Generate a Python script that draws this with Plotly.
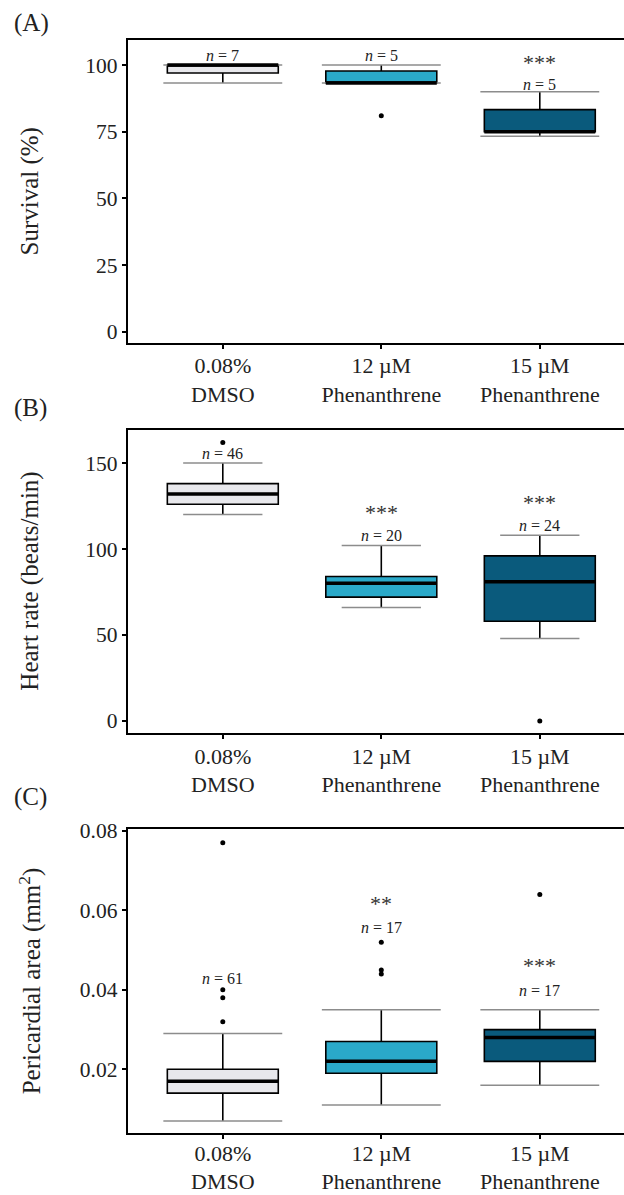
import plotly.graph_objects as go

# ---------------- data ----------------
categories = ["0.08%<br>DMSO", "12 µM<br>Phenanthrene", "15 µM<br>Phenanthrene"]
positions = [1, 2, 3]
fill_colors = ["#e8e8ec", "#2aa9c9", "#0a5a7c"]

# Panel A: survival (%)
surv_low = [93.3, 93.3, 73.3]
surv_q1 = [97.0, 93.3, 75.0]
surv_med = [100.0, 93.3, 75.0]
surv_q3 = [100.0, 97.8, 83.3]
surv_high = [100.0, 100.0, 90.0]
surv_out = [[], [81.0], []]
surv_n = ["7", "5", "5"]
surv_sig = ["", "", "***"]

# Panel B: heart rate (beats/min)
hr_low = [120, 66, 48]
hr_q1 = [126, 72, 58]
hr_med = [132, 80, 81]
hr_q3 = [138, 84, 96]
hr_high = [150, 102, 108]
hr_out = [[162], [], [0]]
hr_n = ["46", "20", "24"]
hr_sig = ["", "***", "***"]

# Panel C: pericardial area (mm2)
pa_low = [0.007, 0.011, 0.016]
pa_q1 = [0.014, 0.019, 0.022]
pa_med = [0.017, 0.022, 0.028]
pa_q3 = [0.020, 0.027, 0.030]
pa_high = [0.029, 0.035, 0.035]
pa_out = [[0.077, 0.040, 0.038, 0.032], [0.052, 0.045, 0.044], [0.064]]
pa_n = ["61", "17", "17"]
pa_sig = ["", "**", "***"]

# label positions (data units)
surv_n_y = [103.6, 103.4, 92.6]
surv_sig_y = [None, None, 101.0]
hr_n_y = [155.6, 107.8, 113.5]
hr_sig_y = [None, 121.0, 127.0]
pa_n_y = [0.0429, 0.0558, 0.0398]
pa_sig_y = [None, 0.0618, 0.0462]

panels = [
    dict(low=surv_low, q1=surv_q1, med=surv_med, q3=surv_q3, high=surv_high, out=surv_out,
         n=surv_n, sig=surv_sig, n_y=surv_n_y, sig_y=surv_sig_y, cap=0.75,
         yrange=[-4.2, 109.4], ytick=[0, 25, 50, 75, 100], yticktext=["0", "25", "50", "75", "100"],
         title="Survival (%)", label="(A)", dom=[40, 343], label_y=23, standoff=-2),
    dict(low=hr_low, q1=hr_q1, med=hr_med, q3=hr_q3, high=hr_high, out=hr_out,
         n=hr_n, sig=hr_sig, n_y=hr_n_y, sig_y=hr_sig_y, cap=0.5,
         yrange=[-7.2, 169.2], ytick=[0, 50, 100, 150], yticktext=["0", "50", "100", "150"],
         title="Heart rate (beats/min)", label="(B)", dom=[430, 733.3], label_y=408, standoff=-2),
    dict(low=pa_low, q1=pa_q1, med=pa_med, q3=pa_q3, high=pa_high, out=pa_out,
         n=pa_n, sig=pa_sig, n_y=pa_n_y, sig_y=pa_sig_y, cap=0.75,
         yrange=[0.0039, 0.0804], ytick=[0.02, 0.04, 0.06, 0.08], yticktext=["0.02", "0.04", "0.06", "0.08"],
         title="Pericardial area (mm<sup>2</sup>)", label="(C)", dom=[829.3, 1133.3], label_y=797, standoff=-5),
]

W, H = 624, 1195
LEFT = 127.7
BOX_W = 0.7
FONT = "Liberation Serif"

fig = go.Figure()
annotations = []
layout = {}

for i, p in enumerate(panels):
    k = "" if i == 0 else str(i + 1)
    xa, ya = "x" + k, "y" + k
    # whisker caps (gray, underneath)
    for j, pos in enumerate(positions):
        hw = p["cap"] / 2
        fig.add_trace(go.Scatter(
            x=[pos - hw, pos + hw, None, pos - hw, pos + hw],
            y=[p["low"][j], p["low"][j], None, p["high"][j], p["high"][j]],
            mode="lines", line=dict(color="#8c8c8c", width=1.5),
            xaxis=xa, yaxis=ya, showlegend=False, hoverinfo="skip"))
    # boxes
    for j, pos in enumerate(positions):
        fig.add_trace(go.Box(
            x=[pos], q1=[p["q1"][j]], median=[p["med"][j]], q3=[p["q3"][j]],
            lowerfence=[p["low"][j]], upperfence=[p["high"][j]],
            width=BOX_W, whiskerwidth=0, boxpoints=False,
            fillcolor=fill_colors[j], line=dict(color="black", width=1.6),
            xaxis=xa, yaxis=ya, showlegend=False, hoverinfo="skip"))
        # thick median
        fig.add_trace(go.Scatter(
            x=[pos - BOX_W / 2, pos + BOX_W / 2], y=[p["med"][j], p["med"][j]],
            mode="lines", line=dict(color="black", width=3.5),
            xaxis=xa, yaxis=ya, showlegend=False, hoverinfo="skip"))
        # outliers
        if p["out"][j]:
            fig.add_trace(go.Scatter(
                x=[pos] * len(p["out"][j]), y=p["out"][j], mode="markers",
                marker=dict(color="black", size=5),
                xaxis=xa, yaxis=ya, showlegend=False, hoverinfo="skip"))
        # n labels
        annotations.append(dict(
            x=pos, y=p["n_y"][j], xref=xa, yref=ya, text="<i>n</i> = " + p["n"][j],
            showarrow=False, font=dict(family=FONT, size=16, color="#222"),
            xanchor="center", yanchor="middle"))
        if p["sig"][j]:
            annotations.append(dict(
                x=pos, y=p["sig_y"][j], xref=xa, yref=ya, text=p["sig"][j],
                showarrow=False, font=dict(family=FONT, size=22, color="#333"),
                xanchor="center", yanchor="middle"))

    top, bot = p["dom"]
    ydom = [1 - bot / H, 1 - top / H]
    layout["xaxis" + k] = dict(
        domain=[LEFT / W, 1], range=[0.4, 0.4 + (W - LEFT) / 158.5], anchor=ya,
        tickvals=positions, ticktext=categories, showline=True, linecolor="black",
        linewidth=2, mirror=True, ticks="outside", ticklen=4, tickwidth=1.5,
        tickcolor="black", showgrid=False, zeroline=False, automargin=False,
        ticklabelstandoff=p["standoff"],
        tickfont=dict(family=FONT, size=22, color="#222"), fixedrange=True)
    layout["yaxis" + k] = dict(
        domain=ydom, range=p["yrange"], anchor=xa, tickvals=p["ytick"], ticktext=p["yticktext"],
        showline=True, linecolor="black", linewidth=2, ticks="outside", ticklen=4,
        tickwidth=1.5, tickcolor="black", showgrid=False, zeroline=False, automargin=False,
        tickfont=dict(family=FONT, size=21.5, color="#222"), fixedrange=True)
    annotations.append(dict(
        x=30 / W, y=(ydom[0] + ydom[1]) / 2, xref="paper", yref="paper", text=p["title"],
        textangle=-90, showarrow=False, font=dict(family=FONT, size=25, color="#222"),
        xanchor="center", yanchor="middle"))
    annotations.append(dict(
        x=12 / W, y=1 - p["label_y"] / H, xref="paper", yref="paper", text=p["label"],
        showarrow=False, font=dict(family=FONT, size=25, color="#222"),
        xanchor="left", yanchor="middle"))

fig.update_layout(
    template="none",
    width=W, height=H, margin=dict(l=0, r=0, t=0, b=0, pad=0),
    paper_bgcolor="white", plot_bgcolor="white", annotations=annotations,
    boxmode="overlay", showlegend=False, **layout)

fig.write_html("out.html", config={"displayModeBar": False},
               post_script="document.body.style.margin='0';document.body.style.overflow='hidden';")
